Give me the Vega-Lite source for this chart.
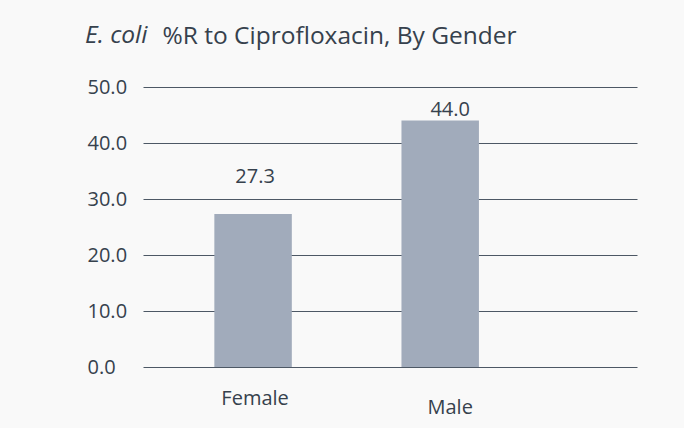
{
  "$schema": "https://vega.github.io/schema/vega-lite/v6.json",
  "autosize": "none",
  "width": 494,
  "height": 280,
  "padding": {"left": 143, "top": 87, "right": 47, "bottom": 61},
  "background": "#f9f9f9",
  "title": {
    "text": "E. coli",
    "subtitle": "\u200b\u2003\u2003\u2002\u2009\u2009\u2009\u2009%R to Ciprofloxacin, By Gender",
    "anchor": "start",
    "frame": "group",
    "dx": -58,
    "offset": 28,
    "font": "Open Sans",
    "fontSize": 24.5,
    "fontStyle": "italic",
    "fontWeight": "normal",
    "color": "#36414d",
    "subtitleFont": "Open Sans",
    "subtitleFontSize": 24.5,
    "subtitleFontStyle": "normal",
    "subtitleColor": "#36414d",
    "subtitlePadding": -24
  },
  "config": {
    "view": {"stroke": null},
    "font": "Open Sans"
  },
  "data": {
    "values": [
      {"gender": "Female", "pct": 27.3},
      {"gender": "Male", "pct": 44.0}
    ]
  },
  "encoding": {
    "x": {
      "field": "gender",
      "type": "nominal",
      "sort": null,
      "scale": {"paddingInner": 0.586, "paddingOuter": 0.613, "align": 0.311},
      "axis": {
        "title": null,
        "labelAngle": 0,
        "domain": false,
        "ticks": false,
        "labelFont": "Open Sans",
        "labelFontSize": 20,
        "labelColor": "#36414d",
        "labelPadding": {"condition": {"test": "datum.value === 'Male'", "value": 30}, "value": 21},
        "labelOffset": {"condition": {"test": "datum.value === 'Male'", "value": 10}, "value": 2}
      }
    },
    "y": {
      "field": "pct",
      "type": "quantitative",
      "scale": {"domain": [0, 50], "nice": false},
      "axis": {
        "title": null,
        "values": [0, 10, 20, 30, 40, 50],
        "format": ".1f",
        "domain": false,
        "ticks": false,
        "labelAlign": "left",
        "labelPadding": 56,
        "labelFont": "Open Sans",
        "labelFontSize": 20,
        "labelColor": "#36414d",
        "grid": true,
        "gridColor": "#4d5865",
        "gridWidth": 1,
        "gridOpacity": 1
      }
    }
  },
  "layer": [
    {
      "mark": {"type": "bar", "color": "#a1abbb"}
    },
    {
      "transform": [{"filter": "datum.gender === 'Female'"}],
      "mark": {"type": "text", "baseline": "alphabetic", "dy": -31, "dx": 2, "font": "Open Sans", "fontSize": 20, "color": "#36414d"},
      "encoding": {"text": {"field": "pct", "type": "quantitative", "format": ".1f"}}
    },
    {
      "transform": [{"filter": "datum.gender === 'Male'"}],
      "mark": {"type": "text", "baseline": "alphabetic", "dy": -5, "dx": 10, "font": "Open Sans", "fontSize": 20, "color": "#36414d"},
      "encoding": {"text": {"field": "pct", "type": "quantitative", "format": ".1f"}}
    }
  ]
}
